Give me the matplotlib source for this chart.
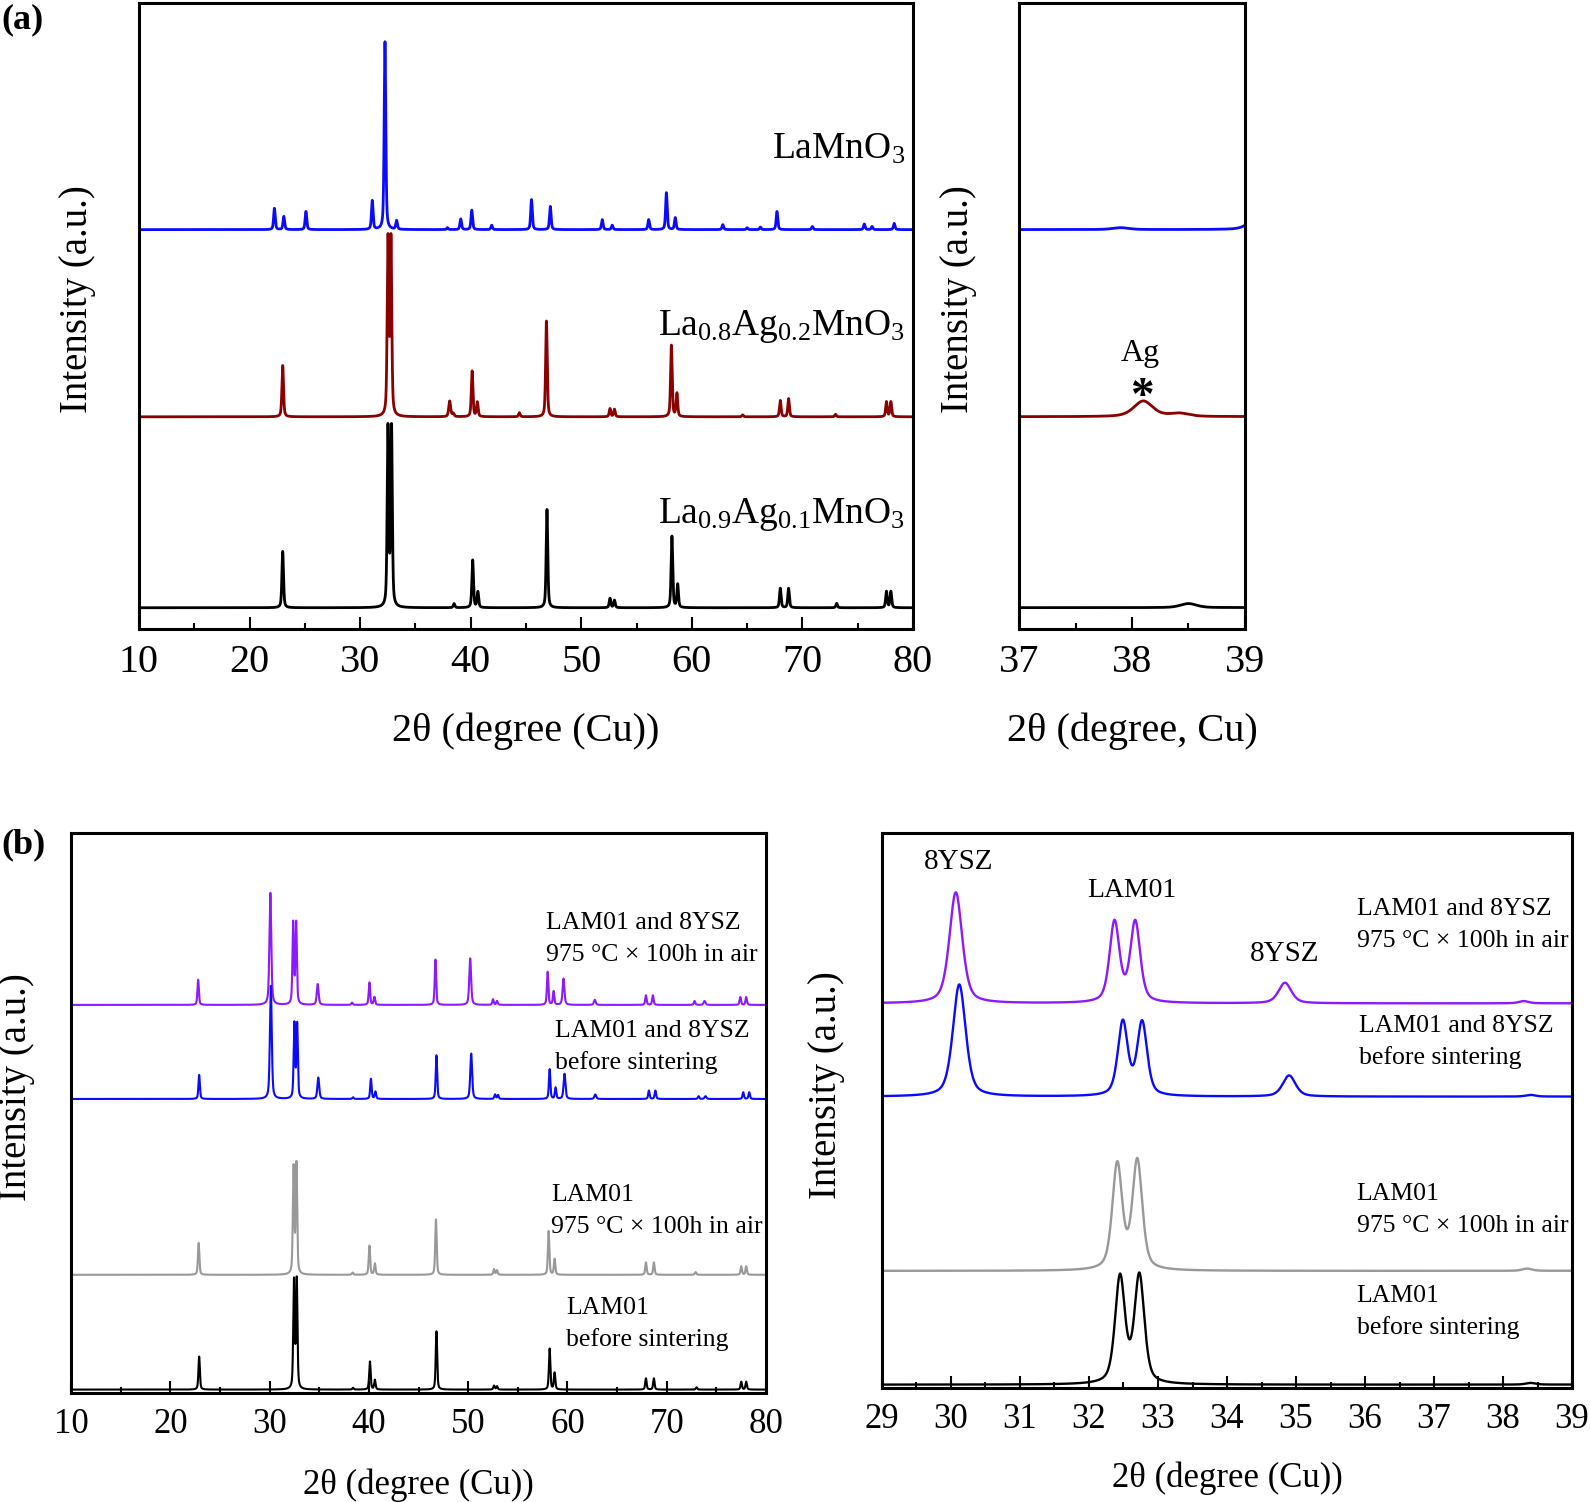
import numpy as np
import matplotlib
matplotlib.use('Agg')
import matplotlib.pyplot as plt
from matplotlib.ticker import MultipleLocator

plt.rcParams['font.family'] = ['Liberation Serif', 'DejaVu Serif']
plt.rcParams['mathtext.fontset'] = 'custom'
plt.rcParams['mathtext.rm'] = 'Liberation Serif'
plt.rcParams['mathtext.it'] = 'Liberation Serif:italic'
plt.rcParams['mathtext.bf'] = 'Liberation Serif:bold'

# --- (a) powders: peak centre (2theta, deg) and height (fraction of the axis) ---
lamno3_pos = [22.25, 23.1, 25.1, 31.1, 32.25, 33.3, 37.9, 39.1, 40.1, 41.9, 45.5, 47.2,
              51.9, 52.8, 56.1, 57.7, 58.5, 62.8, 65.0, 66.2, 67.7, 70.9, 75.6, 76.3, 78.3]
lamno3_height = [0.034, 0.021, 0.029, 0.046, 0.30, 0.014, 0.003, 0.017, 0.031, 0.007, 0.048, 0.037,
                 0.016, 0.007, 0.016, 0.059, 0.019, 0.008, 0.003, 0.004, 0.029, 0.005, 0.009, 0.005, 0.010]

lam02_pos = [23.0, 32.52, 32.79, 40.13, 40.6, 44.4, 46.85, 52.6, 53.0, 58.15, 58.65,
             64.6, 68.0, 68.75, 73.0, 77.6, 78.0]
lam02_height = [0.082, 0.28, 0.28, 0.073, 0.023, 0.0065, 0.153, 0.013, 0.012, 0.114, 0.037,
                0.003, 0.026, 0.029, 0.004, 0.024, 0.024]
ag_pos = [38.1, 38.42]          # metallic Ag (111) reflection, broad
ag_height = [0.025, 0.005]

lam01_pos = [23.0, 32.52, 32.84, 38.5, 40.18, 40.65, 46.9, 52.6, 53.0, 58.2, 58.72,
             68.0, 68.75, 73.1, 77.6, 78.0]
lam01_height = [0.09, 0.285, 0.285, 0.0065, 0.076, 0.025, 0.157, 0.015, 0.012, 0.114, 0.037,
                0.031, 0.031, 0.007, 0.026, 0.026]

baseline_a = [0.638, 0.339, 0.034]   # LaMnO3, La0.8, La0.9

# --- (b) LAM01 / 8YSZ mixtures ---
mix_aged_pos = [22.8, 32.37, 32.67, 38.3, 40.05, 40.55, 46.7, 52.5, 52.9, 58.0, 58.6,
                67.9, 68.6, 72.8, 77.4, 78.0]
mix_aged_height = [0.045, 0.145, 0.145, 0.004, 0.040, 0.014, 0.081, 0.010, 0.007, 0.059, 0.024,
                   0.017, 0.017, 0.007, 0.014, 0.014]
ysz_aged_pos = [30.07, 34.84, 50.2, 59.6, 62.75, 73.8]
ysz_aged_height = [0.20, 0.037, 0.083, 0.047, 0.009, 0.007]

mix_fresh_pos = [22.9, 32.49, 32.77, 38.4, 40.2, 40.65, 46.8, 52.7, 53.0, 58.2, 58.8,
                 68.2, 68.85, 73.2, 77.7, 78.3]
mix_fresh_height = [0.043, 0.133, 0.132, 0.003, 0.036, 0.013, 0.078, 0.008, 0.007, 0.053, 0.02,
                    0.015, 0.015, 0.005, 0.012, 0.012]
ysz_fresh_pos = [30.12, 34.9, 50.3, 59.7, 62.8, 73.9]
ysz_fresh_height = [0.202, 0.038, 0.081, 0.045, 0.008, 0.005]

lam_aged_pos = [22.85, 32.41, 32.70, 38.35, 40.05, 40.6, 46.75, 52.6, 52.9, 58.1, 58.7,
                67.9, 68.7, 72.9, 77.5, 78.0]
lam_aged_height = [0.057, 0.19, 0.196, 0.004, 0.052, 0.02, 0.099, 0.010, 0.008, 0.078, 0.028,
                   0.022, 0.022, 0.005, 0.015, 0.015]

lam_fresh_pos = [22.9, 32.45, 32.73, 38.4, 40.1, 40.6, 46.8, 52.6, 52.9, 58.2, 58.7,
                 67.9, 68.7, 73.0, 77.5, 78.0]
lam_fresh_height = [0.059, 0.192, 0.194, 0.003, 0.05, 0.017, 0.104, 0.007, 0.006, 0.073, 0.03,
                    0.02, 0.02, 0.004, 0.014, 0.014]

baseline_b = [0.693, 0.525, 0.211, 0.006]

tt = np.arange(10.0, 80.0001, 0.002)


def pattern(pos, height, fwhm, eta=0.5):
    # pseudo-Voigt peaks on a flat background
    y = np.zeros_like(tt)
    hw = fwhm / 2.0
    for p, h in zip(pos, height):
        d = (tt - p) / hw
        y += h * (eta / (1 + d ** 2) + (1 - eta) * np.exp(-np.log(2) * d ** 2))
    return y


curves_a = [
    (pattern(lamno3_pos, lamno3_height, 0.17) + baseline_a[0], '#0a0aff'),
    (pattern(lam02_pos, lam02_height, 0.17) + pattern(ag_pos, ag_height, 0.2) + baseline_a[1], '#8b0000'),
    (pattern(lam01_pos, lam01_height, 0.17) + baseline_a[2], 'black'),
]
curves_b = [
    (pattern(mix_aged_pos, mix_aged_height, 0.17) + pattern(ysz_aged_pos, ysz_aged_height, 0.22) + baseline_b[0], '#8c1aff'),
    (pattern(mix_fresh_pos, mix_fresh_height, 0.17) + pattern(ysz_fresh_pos, ysz_fresh_height, 0.22) + baseline_b[1], '#0a0aff'),
    (pattern(lam_aged_pos, lam_aged_height, 0.17) + baseline_b[2], '#999999'),
    (pattern(lam_fresh_pos, lam_fresh_height, 0.17) + baseline_b[3], 'black'),
]

fig = plt.figure(figsize=(15.9, 15.02), dpi=100)
ax_tl = fig.add_axes([0.0874, 0.5812, 0.4868, 0.4168])
ax_tr = fig.add_axes([0.6409, 0.5812, 0.1421, 0.4168])
ax_bl = fig.add_axes([0.0447, 0.0726, 0.4371, 0.3728])
ax_br = fig.add_axes([0.5547, 0.0759, 0.4340, 0.3695])


def style(ax, xlim, major, minor, fs, pad, xlabel, xlab_y, ylab_x, ylab_y):
    ax.set_xlim(xlim)
    ax.set_ylim(0, 1)
    ax.xaxis.set_major_locator(MultipleLocator(major))
    ax.xaxis.set_minor_locator(MultipleLocator(minor))
    ax.tick_params(axis='x', which='major', direction='in', length=9, width=1.5,
                   labelsize=fs, pad=pad)
    ax.tick_params(axis='x', which='minor', direction='in', length=4.5, width=1.5)
    ax.set_yticks([])
    for s in ax.spines.values():
        s.set_linewidth(2.2)
    ax.set_xlabel(xlabel, fontsize=fs)
    ax.xaxis.label.set_va('center')
    ax.xaxis.set_label_coords(0.5, xlab_y)
    ax.set_ylabel('Intensity (a.u.)', fontsize=28)
    ax.yaxis.label.set_va('center')
    ax.yaxis.set_label_coords(ylab_x, ylab_y)


for ax in (ax_tl, ax_tr):
    for y, c in curves_a:
        ax.plot(tt, y, color=c, lw=2.0)
for ax, lw in ((ax_bl, 1.5), (ax_br, 1.7)):
    for y, c in curves_b:
        ax.plot(tt, y, color=c, lw=lw)

style(ax_tl, (10, 80), 10, 5, 29, 11, '2θ (degree (Cu))', -0.163, -0.079, 0.527)
style(ax_tr, (37, 39), 1, 0.5, 29, 11, '2θ (degree, Cu)', -0.163, -0.270, 0.527)
style(ax_bl, (10, 80), 10, 5, 25, 10.5, '2θ (degree (Cu))', -0.164, -0.078, 0.546)
style(ax_br, (29, 39), 1, 0.5, 25, 10.5, '2θ (degree (Cu))', -0.163, -0.081, 0.546)

# sample labels, panel (a)
names_a = [r'$\mathrm{LaMnO_{3}}$', r'$\mathrm{La_{0.8}Ag_{0.2}MnO_{3}}$', r'$\mathrm{La_{0.9}Ag_{0.1}MnO_{3}}$']
for name, yb in zip(names_a, [0.751, 0.469, 0.169]):
    ax_tl.text(0.99, yb, name, transform=ax_tl.transAxes, ha='right', va='baseline', fontsize=27)

ax_tr.text(38.07, 0.428, 'Ag', transform=ax_tr.get_xaxis_transform(), ha='center', va='baseline', fontsize=23)
ax_tr.text(38.09, 0.352, '*', transform=ax_tr.get_xaxis_transform(), ha='center', va='baseline',
           fontsize=34, fontweight='bold')


def two_lines(ax, x, y1, y2, l1, l2, fs=18.5):
    ax.text(x, y1, l1, transform=ax.transAxes, ha='left', va='baseline', fontsize=fs)
    ax.text(x, y2, l2, transform=ax.transAxes, ha='left', va='baseline', fontsize=fs)


aged = '975 °C × 100h in air'
two_lines(ax_bl, 0.683, 0.829, 0.771, 'LAM01 and 8YSZ', aged)
two_lines(ax_bl, 0.696, 0.636, 0.579, 'LAM01 and 8YSZ', 'before sintering')
two_lines(ax_bl, 0.691, 0.343, 0.285, 'LAM01', aged)
two_lines(ax_bl, 0.712, 0.141, 0.084, 'LAM01', 'before sintering')

two_lines(ax_br, 0.688, 0.852, 0.794, 'LAM01 and 8YSZ', aged)
two_lines(ax_br, 0.692, 0.641, 0.583, 'LAM01 and 8YSZ', 'before sintering')
two_lines(ax_br, 0.688, 0.338, 0.281, 'LAM01', aged)
two_lines(ax_br, 0.688, 0.155, 0.098, 'LAM01', 'before sintering')

tr = ax_br.get_xaxis_transform()
ax_br.text(30.11, 0.935, '8YSZ', transform=tr, ha='center', va='baseline', fontsize=21)
ax_br.text(32.62, 0.885, 'LAM01', transform=tr, ha='center', va='baseline', fontsize=20)
ax_br.text(34.84, 0.769, '8YSZ', transform=tr, ha='center', va='baseline', fontsize=21)

fig.text(0.001, 1 - 20 / 1502, '(a)', fontsize=26, fontweight='bold', ha='left', va='center')
fig.text(0.001, 1 - 845 / 1502, '(b)', fontsize=26, fontweight='bold', ha='left', va='center')

fig.savefig('out.png', dpi=100)
